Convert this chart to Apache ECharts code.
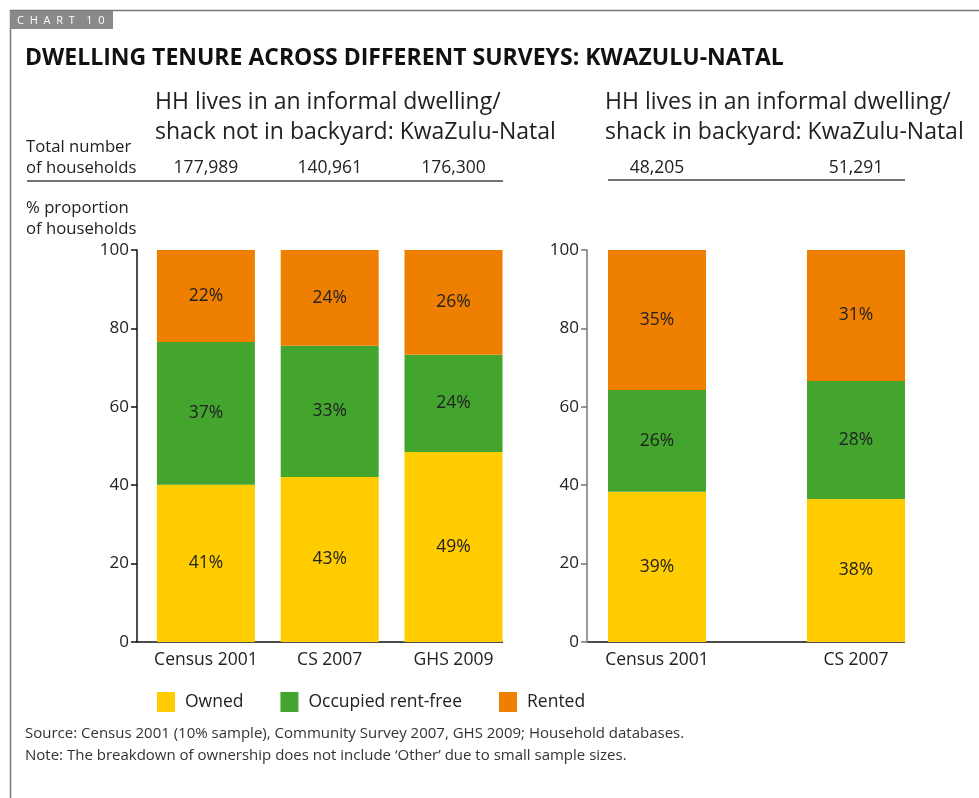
<!DOCTYPE html>
<html>
<head>
<meta charset="utf-8">
<script src="https://cdn.jsdelivr.net/npm/echarts@6/dist/echarts.min.js"></script>
<style>
  html, body { margin: 0; padding: 0; background: #fff; }
  #main { width: 979px; height: 798px; }
</style>
</head>
<body>
<div id="main"></div>
<script>
"use strict";

// panel A: informal dwelling / shack NOT in backyard
const surveysA = ['Census 2001', 'CS 2007', 'GHS 2009'];
const totalsA = ['177,989', '140,961', '176,300'];
const ownedA = [40.1, 42.1, 48.5];
const rentFreeA = [36.4, 33.5, 24.8];
const rentedA = [23.5, 24.4, 26.7];
const ownedLabA = ['41%', '43%', '49%'];
const rentFreeLabA = ['37%', '33%', '24%'];
const rentedLabA = ['22%', '24%', '26%'];

// panel B: informal dwelling / shack IN backyard
const surveysB = ['Census 2001', 'CS 2007'];
const totalsB = ['48,205', '51,291'];
const ownedB = [38.3, 36.5];
const rentFreeB = [26.0, 30.1];
const rentedB = [35.7, 33.4];
const ownedLabB = ['39%', '38%'];
const rentFreeLabB = ['26%', '28%'];
const rentedLabB = ['35%', '31%'];

const seriesNames = ['Owned', 'Occupied rent-free', 'Rented'];
const colors = ['#FFCC00', '#43A52E', '#EF7F00'];
const yTicks = [0, 20, 40, 60, 80, 100];

const FONT = '"Open Sans", "Noto Sans", sans-serif';
const TXT = '#222';
const FS = 17.5;

var myChart = echarts.init(document.getElementById('main'));

// una serie apilada
function bars(name, values, labels, idx, color) {
    return {
        name: name,
        type: 'bar',
        xAxisIndex: idx,
        yAxisIndex: idx,
        stack: 'panel' + idx,
        barWidth: 98,
        data: values,
        itemStyle: { color: color },
        emphasis: { disabled: true },
        label: {
            show: true,
            position: 'inside',
            color: TXT,
            fontSize: FS,
            fontFamily: FONT,
            formatter: p => labels[p.dataIndex]
        }
    };
}

function bottomAxis(grid, cats) {
    return {
        type: 'category',
        gridIndex: grid,
        data: cats,
        axisLine: { show: false },
        axisTick: { show: false },
        axisLabel: { interval: 0, color: TXT, fontSize: FS, fontFamily: FONT, margin: 9 }
    };
}

function topAxis(grid, totals) {
    return {
        type: 'category',
        gridIndex: grid,
        position: 'top',
        offset: 66,
        data: totals,
        axisLine: { show: false },
        axisTick: { show: false },
        axisLabel: { interval: 0, color: TXT, fontSize: FS, fontFamily: FONT, margin: 7 }
    };
}

function valueAxis(grid, offset, lineColor) {
    return {
        type: 'value',
        gridIndex: grid,
        min: yTicks[0],
        max: yTicks[yTicks.length - 1],
        interval: 20,
        offset: offset,
        axisLine: { show: true, lineStyle: { color: lineColor, width: 1.5 } },
        axisTick: { show: true, length: 6, lineStyle: { color: lineColor, width: 1.5 } },
        splitLine: { show: false },
        axisLabel: { color: TXT, fontSize: 17, fontFamily: FONT, margin: 8 }
    };
}

function txt(x, y, text, size, extra) {
    return {
        type: 'text',
        x: x,
        y: y,
        style: Object.assign({
            text: text,
            fill: TXT,
            font: size + 'px ' + FONT,
            verticalAlign: 'middle'
        }, extra || {})
    };
}

function rule(x1, y1, x2, y2, color, w) {
    return {
        type: 'line',
        shape: { x1: x1, y1: y1, x2: x2, y2: y2 },
        style: { stroke: color, lineWidth: w }
    };
}

var option = {
    animation: false,
    backgroundColor: '#fff',
    grid: [
        { left: 144, right: 979 - 515.4, top: 250, bottom: 156 },
        { left: 557.5, right: 979 - 955.5, top: 250, bottom: 156 }
    ],
    xAxis: [
        bottomAxis(0, surveysA),
        bottomAxis(1, surveysB),
        topAxis(0, totalsA),
        topAxis(1, totalsB)
    ],
    yAxis: [
        valueAxis(0, 7, '#111'),
        valueAxis(1, -29.5, '#777')
    ],
    legend: {
        data: seriesNames,
        left: 152,
        top: 687,
        icon: 'rect',
        itemWidth: 18,
        itemHeight: 20,
        itemGap: 37,
        selectedMode: false,
        textStyle: { color: TXT, fontSize: FS, fontFamily: FONT, padding: [0, 0, 0, 5] }
    },
    series: [
        bars(seriesNames[0], ownedA, ownedLabA, 0, colors[0]),
        bars(seriesNames[1], rentFreeA, rentFreeLabA, 0, colors[1]),
        bars(seriesNames[2], rentedA, rentedLabA, 0, colors[2]),
        bars(seriesNames[0], ownedB, ownedLabB, 1, colors[0]),
        bars(seriesNames[1], rentFreeB, rentFreeLabB, 1, colors[1]),
        bars(seriesNames[2], rentedB, rentedLabB, 1, colors[2])
    ],
    graphic: [
        // marco
        rule(10, 10.5, 979, 10.5, '#777', 1.5),
        rule(10.5, 10, 10.5, 798, '#777', 1.5),
        { type: 'rect', shape: { x: 10, y: 11, width: 103, height: 18 }, style: { fill: '#8a8a8a' } },
        txt(17, 20.5, 'C  H  A  R  T    1  0', 11, { fill: '#fff' }),
        txt(25, 58, 'DWELLING TENURE ACROSS DIFFERENT SURVEYS: KWAZULU-NATAL', 23, { font: 'bold 23px ' + FONT, fill: '#111' }),
        // subtitulos
        txt(155, 102, 'HH lives in an informal dwelling/', 23),
        txt(155, 132, 'shack not in backyard: KwaZulu-Natal', 23),
        txt(605, 102, 'HH lives in an informal dwelling/', 23),
        txt(605, 132, 'shack in backyard: KwaZulu-Natal', 23),
        txt(26, 147, 'Total number', 16.7),
        txt(26, 168, 'of households', 16.7),
        rule(27, 181, 503, 181, '#444', 1.5),
        rule(608, 180, 905, 180, '#444', 1.5),
        txt(26, 208, '% proportion', 16.7),
        txt(26, 229, 'of households', 16.7),
        // ejes x
        rule(137, 642, 503, 642, '#111', 1.5),
        rule(587, 642, 905, 642, '#111', 1.5),
        // fuente
        txt(25, 734, 'Source: Census 2001 (10% sample), Community Survey 2007, GHS 2009; Household databases.', 15, { fill: '#333' }),
        txt(25, 756, 'Note: The breakdown of ownership does not include \u2018Other\u2019 due to small sample sizes.', 15, { fill: '#333' })
    ]
};

myChart.setOption(option);
</script>
</body>
</html>
